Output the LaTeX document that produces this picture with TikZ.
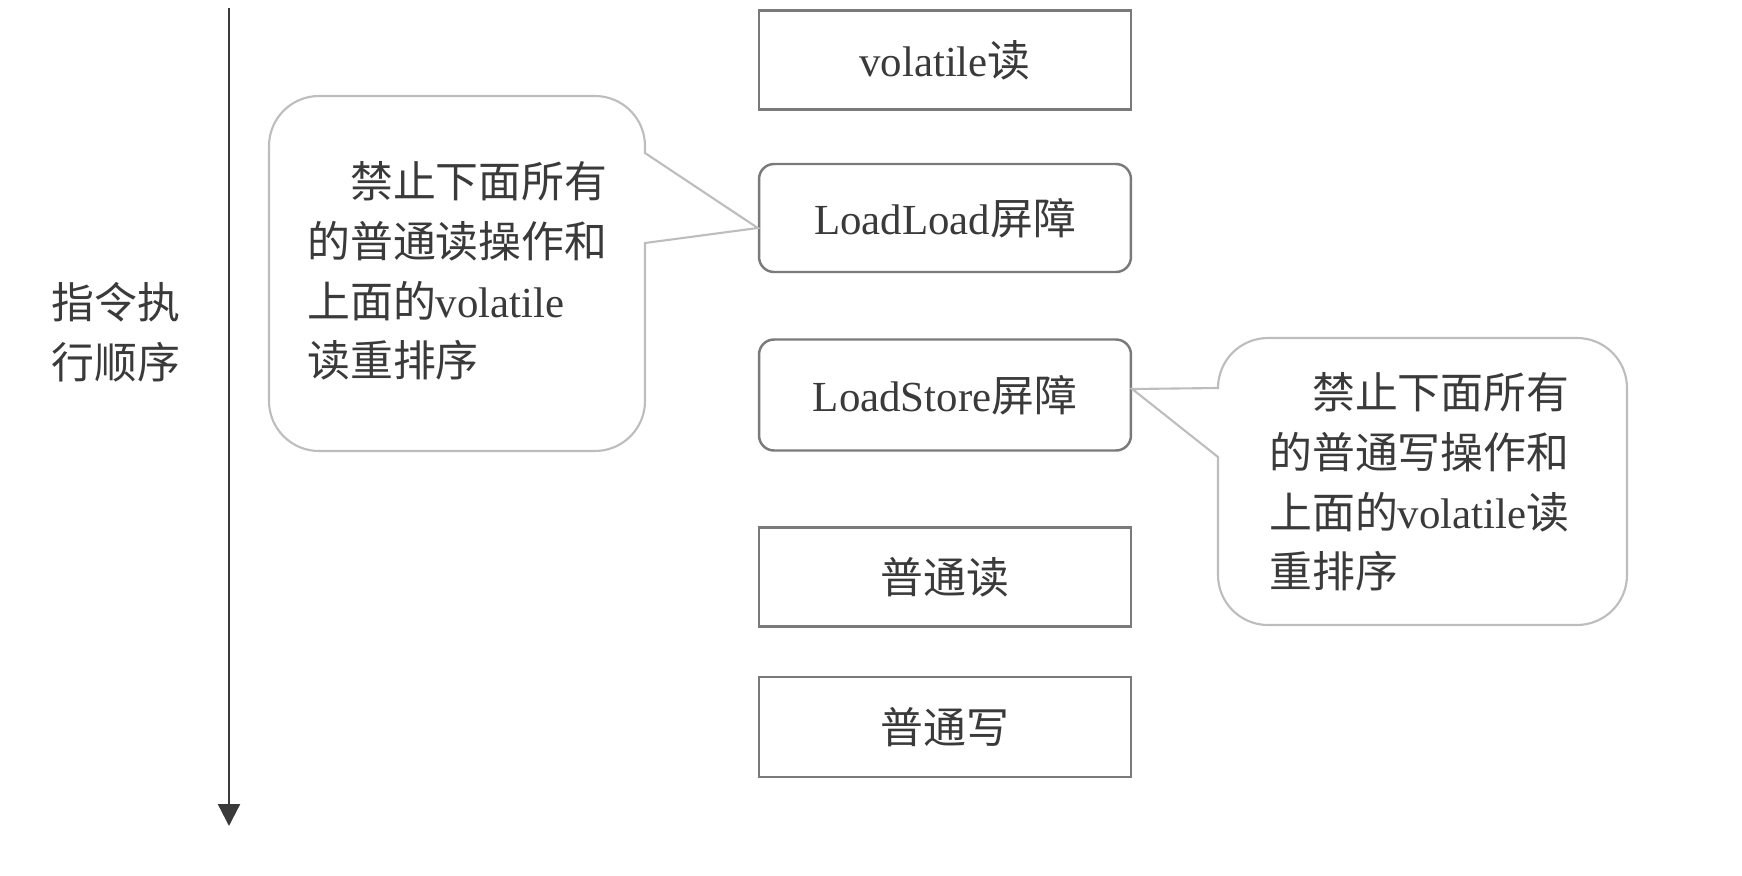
\documentclass[tikz,border=0pt]{standalone}
\usepackage{fontspec}
\setmainfont{Liberation Serif}
\newfontfamily\cjk{Noto Sans CJK SC}
\usetikzlibrary{arrows.meta}
\newcommand{\zh}[1]{{\cjk #1}}
\definecolor{txt}{HTML}{3A3A3A}
\definecolor{boxline}{HTML}{7A7A7A}
\definecolor{bubline}{HTML}{BDBDBD}
\tikzset{
  every node/.style={text=txt, font=\fontsize{24.4}{34}\selectfont, inner sep=0pt},
  opbox/.style={draw=boxline, line width=1.4pt, minimum width=7.44cm},
  barrierbox/.style={opbox, rounded corners=0.3cm},
  bubble/.style={draw=bubline, line width=1.2pt, fill=white},
  bubbletext/.style={align=left},
  timeline/.style={draw=txt, line width=1.3pt, -{Triangle[length=0.44cm,width=0.44cm]}}
}
\begin{document}
\begin{tikzpicture}[x=0.02cm, y=-0.02cm]
\useasboundingbox (0,0) rectangle (1742,876);
% time arrow
\coordinate (atop) at (229,8);
\coordinate (abot) at (229,826);
\draw[timeline] (atop) -- (abot);
\node[align=left] (order) at (116,332) {\zh{指令执}\\\zh{行顺序}};
% boxes
\node[opbox, minimum height=1.98cm] (vread) at (945,60) {volatile\zh{读}};
\node[barrierbox, minimum height=2.16cm] (ll) at (945,218) {LoadLoad\zh{屏障}};
\node[barrierbox, minimum height=2.22cm] (ls) at (945,395) {LoadStore\zh{屏障}};
\node[opbox, minimum height=1.98cm] (nread) at (945,577) {\zh{普通读}};
\node[opbox, minimum height=2.0cm] (nwrite) at (945,727) {\zh{普通写}};
% left callout
\coordinate (tipL) at (ll.west |- 0,228);
\draw[bubble] (645,243) -- (645,401) arc[start angle=0, end angle=90, radius=50]
  -- (319,451) arc[start angle=90, end angle=180, radius=50]
  -- (269,146) arc[start angle=180, end angle=270, radius=50]
  -- (595,96) arc[start angle=270, end angle=360, radius=50]
  -- (645,153) -- (tipL) -- cycle;
\node[bubbletext, anchor=west] (lnote) at (307,271)
  {\hspace*{1em}\zh{禁止下面所有}\\\zh{的普通读操作和}\\\zh{上面的}volatile\\\zh{读重排序}};
% right callout
\coordinate (tipR) at (ls.east |- 0,389);
\draw[bubble] (tipR) -- (1218,388) arc[start angle=180, end angle=270, radius=50]
  -- (1577,338) arc[start angle=270, end angle=360, radius=50]
  -- (1627,575) arc[start angle=0, end angle=90, radius=50]
  -- (1268,625) arc[start angle=90, end angle=180, radius=50]
  -- (1218,457) -- cycle;
\node[bubbletext, anchor=west] (rnote) at (1269,482)
  {\hspace*{1em}\zh{禁止下面所有}\\\zh{的普通写操作和}\\\zh{上面的}volatile\zh{读}\\\zh{重排序}};
\end{tikzpicture}
\end{document}
